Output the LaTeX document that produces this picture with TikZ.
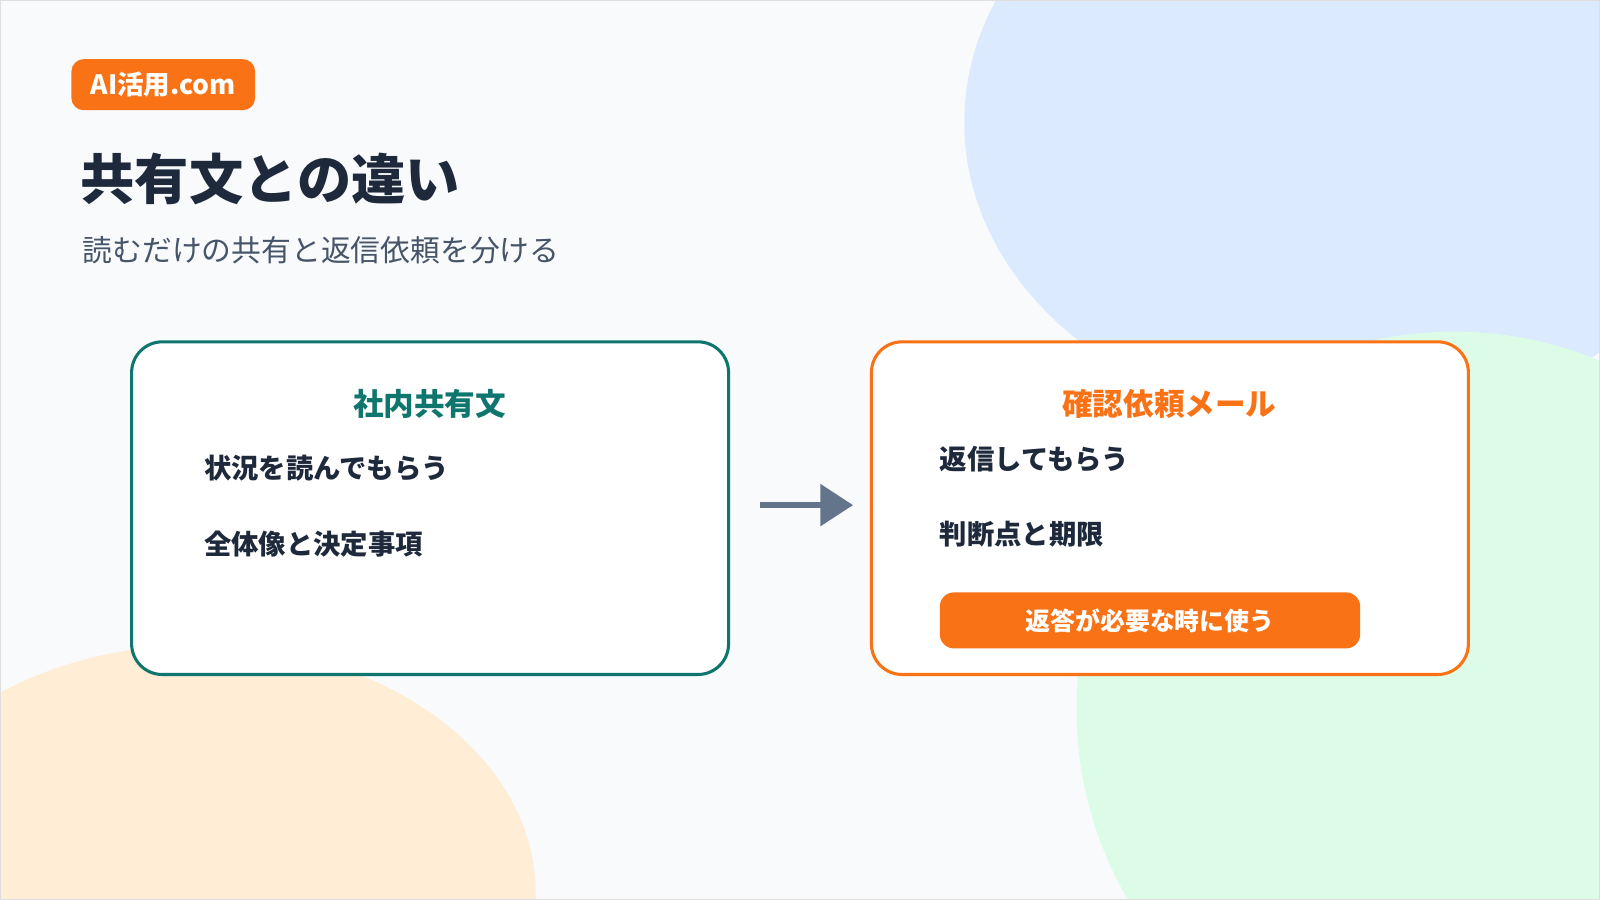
\documentclass[tikz,border=0pt]{standalone}
\usepackage{fontspec}
\setmainfont{Noto Sans CJK JP}
\usetikzlibrary{arrows.meta}
\definecolor{bg}{HTML}{F8FAFC}
\definecolor{blueb}{HTML}{DBEAFE}
\definecolor{greenb}{HTML}{DCFCE7}
\definecolor{orangeb}{HTML}{FFEDD5}
\definecolor{org}{HTML}{F97316}
\definecolor{teal}{HTML}{0F766E}
\definecolor{dark}{HTML}{1E293B}
\definecolor{sub}{HTML}{475569}
\definecolor{arr}{HTML}{64748B}
\tikzset{
 card/.style={draw=#1,line width=1.5pt,fill=white,rounded corners=15pt},
 item/.style={anchor=west,font=\fontsize{13.4}{15}\selectfont\bfseries,text=dark},
 head/.style={font=\fontsize{15}{17}\selectfont\bfseries,text=#1},
}
\begin{document}
\begin{tikzpicture}[x=0.5pt,y=-0.5pt]
\useasboundingbox (0,0) rectangle (1568,882);
\fill[bg] (0,0) rectangle (1568,882);
\begin{scope}
\clip (0,0) rectangle (1568,882);
\fill[blueb] (1320,120) ellipse [x radius=375,y radius=300];
\fill[greenb] (1425,695) circle [radius=370];
\fill[orangeb] (195,875) ellipse [x radius=330,y radius=243];
\end{scope}
\draw[gray!25,line width=0.8pt] (0,0) rectangle (1568,882);
\node[fill=org,rounded corners=6pt,minimum width=90pt,minimum height=25pt,text=white,font=\fontsize{13}{15}\selectfont\bfseries] (badge) at (160,83) {AI活用.com};
\node[anchor=west,font=\fontsize{26.6}{30}\selectfont\bfseries,text=dark] (title) at (72,175) {共有文との違い};
\node[anchor=west,font=\fontsize{14.6}{17}\selectfont,text=sub] (subt) at (74,245) {読むだけの共有と返信依頼を分ける};
\node[card=teal,minimum width=292.5pt,minimum height=163pt] (L) at (421.5,498) {};
\node[head=teal] (lh) at (421,396) {社内共有文};
\node[item] (l1) at (193,459) {状況を読んでもらう};
\node[item] (l2) at (193,533) {全体像と決定事項};
\node[card=org,minimum width=292.5pt,minimum height=163pt] (R) at (1146.5,498) {};
\node[head=org] (rh) at (1146,396) {確認依頼メール};
\node[item] (r1) at (914,450) {返信してもらう};
\node[item] (r2) at (914,523) {判断点と期限};
\node[fill=org,rounded corners=7pt,minimum width=206pt,minimum height=27.5pt,text=white,font=\fontsize{12.2}{14}\selectfont\bfseries] (btn) at (1127,608) {返答が必要な時に使う};
\coordinate (a1) at (745,495);
\coordinate (a2) at (836,495);
\draw[arr,line width=3pt,-{Triangle[length=16pt,width=20pt]}] (a1) -- (a2);
\end{tikzpicture}
\end{document}
